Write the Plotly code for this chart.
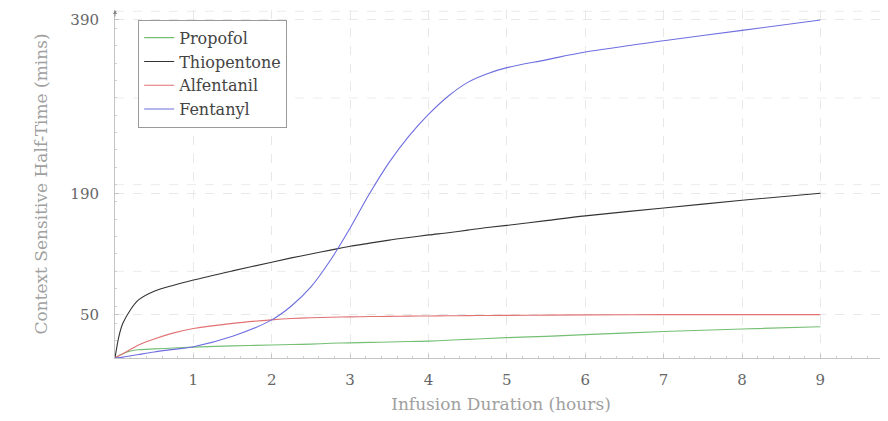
import plotly.graph_objects as go

# Infusion duration (hours)
hours = [0, 0.05, 0.1, 0.2, 0.3, 0.5, 0.75, 1, 1.5, 2, 2.25, 2.5, 2.75, 3, 3.25,
         3.5, 3.75, 4, 4.25, 4.5, 4.75, 5, 5.5, 6, 7, 8, 9]

# Context sensitive half-time (mins)
propofol = [0, 3, 5, 8, 9.5, 10.5, 11.5, 12.5, 14, 15, 15.5, 16, 17, 17.5, 18,
            18.5, 19, 19.5, 20.5, 21.5, 22.5, 23.5, 25, 27, 30.5, 33.5, 36]
thiopentone = [0, 25, 40, 56, 67, 77, 84, 90, 100.5, 110.5, 115.5, 120, 124.5, 129, 132.5,
               136, 139, 142, 144.5, 147.5, 150.5, 153, 158.5, 164, 173, 182, 190]
alfentanil = [0, 2.5, 5, 10, 15, 22, 29, 34, 40, 44, 45.5, 46.5, 47, 47.5, 47.8,
              48, 48.3, 48.5, 48.7, 48.9, 49, 49.2, 49.5, 49.7, 50, 50, 50]
fentanyl = [0, 0.5, 1, 2.5, 4, 7, 10, 13, 25, 44, 60, 82, 113, 150, 190,
            226, 256, 281, 302, 318, 328, 335, 344, 353, 366, 378, 390]

series_names = ["Propofol", "Thiopentone", "Alfentanil", "Fentanyl"]
series_values = [propofol, thiopentone, alfentanil, fentanyl]
series_colors = ["#74bf74", "#333333", "#e07272", "#6e6ee0"]

x_ticks = [1, 2, 3, 4, 5, 6, 7, 8, 9]
y_ticks = [50, 190, 390]
extra_grid_y = [100, 200, 300, 400]

FONT = "DejaVu Serif"

fig = go.Figure()
for name, vals, col in zip(series_names, series_values, series_colors):
    fig.add_trace(go.Scatter(
        x=hours, y=vals, name=name, mode="lines",
        line=dict(color=col, width=1.1, shape="spline", smoothing=0.9),
    ))

shapes = []
for gy in extra_grid_y:
    shapes.append(dict(type="line", xref="paper", yref="y", x0=0, x1=1, y0=gy, y1=gy,
                       line=dict(color="#ececec", width=1, dash="dash"), layer="below"))

fig.update_layout(
    width=880, height=413,
    margin=dict(l=107, r=1, t=2, b=63),
    paper_bgcolor="white", plot_bgcolor="white",
    font=dict(family=FONT, color="#444"),
    shapes=shapes,
    showlegend=True,
    legend=dict(
        x=0.03, y=0.972, xanchor="left", yanchor="top",
        bordercolor="#9a9a9a", borderwidth=1, bgcolor="white",
        font=dict(family=FONT, size=16, color="#444"),
        tracegroupgap=0, itemwidth=30,
    ),
    xaxis=dict(
        range=[0, 9.85], tickmode="array", tickvals=x_ticks,
        showgrid=True, gridcolor="#e8e8e8", griddash="dash", gridwidth=1,
        showline=True, linecolor="#c4c4c4", linewidth=1,
        zeroline=False, ticks="inside", ticklen=4, tickcolor="#c4c4c4",
        minor=dict(dtick=0.2, ticks="inside", ticklen=2, tickcolor="#d0d0d0", showgrid=False),
        tickfont=dict(family=FONT, size=15, color="#666"),
        ticklabelstandoff=8,
        title=dict(text="Infusion Duration (hours)", standoff=10,
                   font=dict(family=FONT, size=17, color="#a0a0a0")),
    ),
    yaxis=dict(
        range=[0, 401.5], tickmode="array", tickvals=y_ticks,
        showgrid=True, gridcolor="#e8e8e8", griddash="dash", gridwidth=1,
        showline=True, linecolor="#c4c4c4", linewidth=1,
        zeroline=False, ticks="inside", ticklen=4, tickcolor="#c4c4c4",
        minor=dict(dtick=20, ticks="inside", ticklen=2, tickcolor="#d0d0d0", showgrid=False),
        tickfont=dict(family=FONT, size=15, color="#666"),
        ticklabelstandoff=12,
        title=dict(text="Context Sensitive Half-Time (mins)", standoff=18,
                   font=dict(family=FONT, size=17, color="#a0a0a0")),
    ),
    annotations=[dict(x=0, y=1, xref="paper", yref="paper", showarrow=True,
                      ax=0, ay=8, arrowhead=2, arrowsize=0.8, arrowwidth=1,
                      arrowcolor="#888", text="")],
)

fig.write_html("out.html")
